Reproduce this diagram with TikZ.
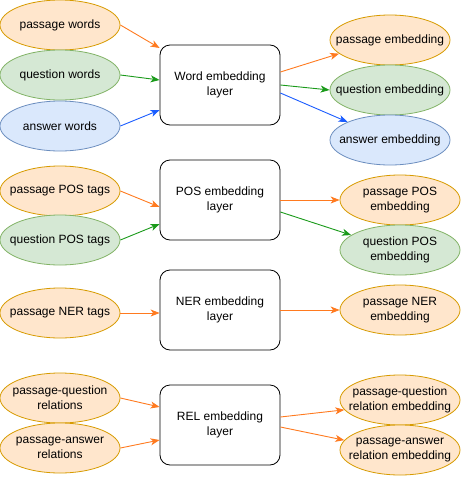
\documentclass[tikz,border=0pt]{standalone}
\usepackage{fontspec}
\setmainfont{Liberation Sans}
\usetikzlibrary{shapes.geometric,arrows.meta}
\definecolor{o0}{HTML}{FFE6CC}
\definecolor{o1}{HTML}{D79B00}
\definecolor{o2}{HTML}{FF7A1F}
\definecolor{g0}{HTML}{D5E8D4}
\definecolor{g1}{HTML}{82B366}
\definecolor{g2}{HTML}{1A9A1A}
\definecolor{b0}{HTML}{DAE8FC}
\definecolor{b1}{HTML}{6C8EBF}
\definecolor{b2}{HTML}{1A5CFF}
\tikzset{%
  blob/.style={ellipse,draw=#11,fill=#10,line width=0.8pt,
    minimum width=120pt,minimum height=50pt,inner xsep=-15pt,inner ysep=0pt,
    align=center,font=\fontsize{12}{15}\selectfont},
  blob/.default=o,
  layer/.style={draw,rounded corners=10pt,line width=0.8pt,
    minimum width=120pt,minimum height=80pt,align=center,
    font=\fontsize{12}{15}\selectfont},
  feed/.style={draw=#12,line width=0.9pt,-{Stealth[length=9pt,width=7pt,inset=2.5pt]}},
  feed/.default=o
}

\begin{document}
\begin{tikzpicture}[x=1pt,y=-1pt]
  \useasboundingbox (0,0) rectangle (462,477);
  %% word
  \node[blob=o] (pw) at (60,25) {passage words};
  \node[blob=g] (qw) at (60,75) {question words};
  \node[blob=b] (aw) at (60,126) {answer words};
  \node[layer] (wl) at (220,85) {Word embedding\\layer};
  \node[blob=o] (pwe) at (390,40) {passage embedding};
  \node[blob=g] (qwe) at (390,90) {question embedding};
  \node[blob=b] (awe) at (390,140) {answer embedding};
  \draw[feed=o] (pw.east) -- ([yshift=37pt]wl.west);
  \draw[feed=g] (qw.east) -- ([yshift=5pt]wl.west);
  \draw[feed=b] (aw.east) -- ([yshift=-25pt]wl.west);
  \draw[feed=o] ([yshift=13pt]wl.east) -- (pwe.195);
  \draw[feed=g] (wl.east) -- (qwe.west);
  \draw[feed=b] ([yshift=-8pt]wl.east) -- (awe.157);
  %% pos
  \node[blob=o] (pp) at (60,191) {passage POS tags};
  \node[blob=g] (qp) at (60,240) {question POS tags};
  \node[layer] (pl) at (220,200) {POS embedding\\layer};
  \node[blob=o] (ppe) at (400,200) {passage POS\\embedding};
  \node[blob=g] (qpe) at (400,250) {question POS\\embedding};
  \draw[feed=o] (pp.east) -- ([yshift=-7pt]pl.west);
  \draw[feed=g] (qp.east) -- ([yshift=-24pt]pl.west);
  \draw[feed=o] (pl.east) -- (ppe.west);
  \draw[feed=g] ([yshift=-12pt]pl.east) -- (qpe.163);
  %% ner
  \node[blob=o] (pn) at (60,313) {passage NER tags};
  \node[layer] (nl) at (220,310) {NER embedding\\layer};
  \node[blob=o] (pne) at (400,310) {passage NER\\embedding};
  \draw[feed=o] (pn.east) -- ([yshift=-3pt]nl.west);
  \draw[feed=o] (nl.east) -- (pne.west);
  %% rel
  \node[blob=o] (pqr) at (60,398) {passage-question\\relations};
  \node[blob=o] (par) at (60,448) {passage-answer\\relations};
  \node[layer] (rl) at (220,425) {REL embedding\\layer};
  \node[blob=o] (pqe) at (400,400) {passage-question\\relation embedding};
  \node[blob=o] (pae) at (400,450) {passage-answer\\relation embedding};
  \draw[feed=o] (pqr.east) -- ([yshift=18pt]rl.west);
  \draw[feed=o] (par.east) -- ([yshift=-15pt]rl.west);
  \draw[feed=o] ([yshift=8pt]rl.east) -- (pqe.190);
  \draw[feed=o] ([yshift=-2pt]rl.east) -- (pae.170);
\end{tikzpicture}
\end{document}
